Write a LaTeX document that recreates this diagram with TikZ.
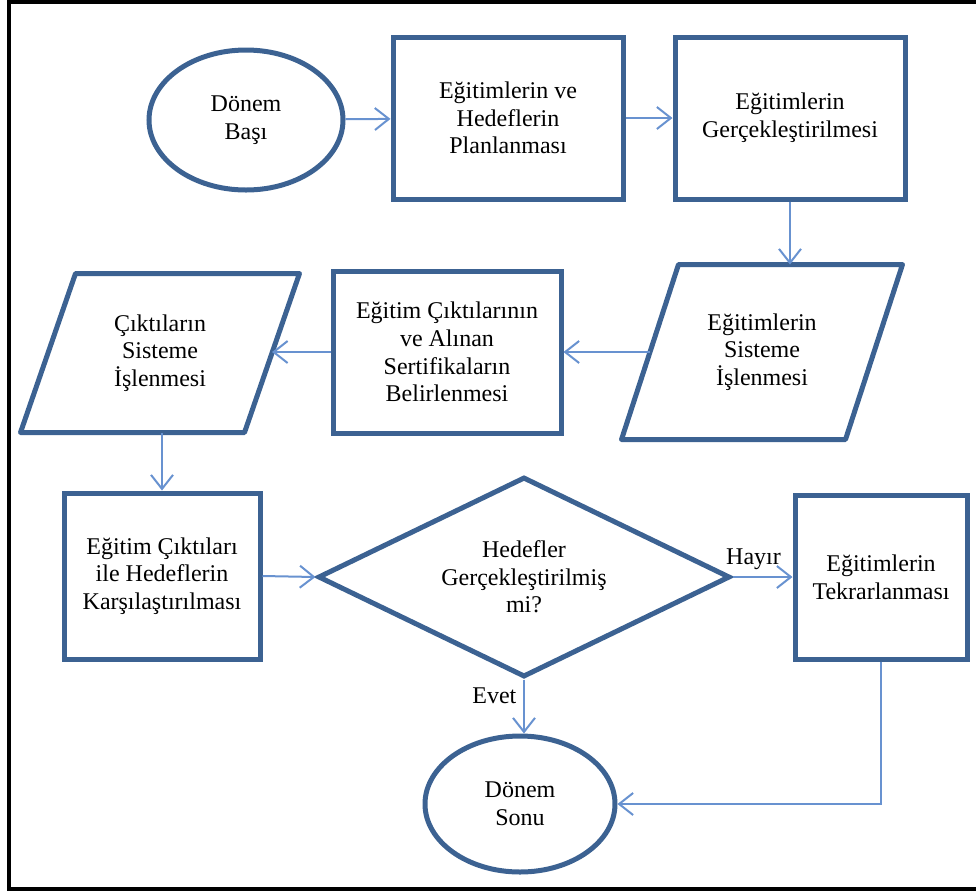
\documentclass[tikz,border=0pt]{standalone}
\usepackage{fontspec}
\setmainfont{Liberation Serif}
\usetikzlibrary{shapes.geometric,arrows.meta}
\definecolor{boxblue}{RGB}{60,98,146}
\definecolor{lineblue}{RGB}{104,146,208}
\tikzstyle{box} = [draw=boxblue, line width=2.5pt, rectangle, align=center, inner sep=0pt, font=\fontsize{12}{13.8}\selectfont]
\tikzstyle{term} = [draw=boxblue, line width=2.5pt, ellipse, align=center, inner sep=0pt, font=\fontsize{12}{13.8}\selectfont]
\tikzstyle{io} = [rectangle, align=center, inner sep=0pt, outer sep=1.25pt, font=\fontsize{12}{13.8}\selectfont]
\tikzstyle{ioline} = [draw=boxblue, line width=2.5pt, line join=round]
\tikzstyle{decision} = [draw=boxblue, line width=2.5pt, diamond, aspect=2.2, align=center, inner sep=0pt, font=\fontsize{12}{13.8}\selectfont]
\tikzstyle{arrow} = [line width=1pt, color=lineblue, -{Straight Barb[length=7pt,width=11pt]}]
\tikzstyle{answer} = [text=black, font=\fontsize{12}{13.8}\selectfont]

\begin{document}
\begin{tikzpicture}[x=0.5pt, y=-0.5pt]
\useasboundingbox (0,0) rectangle (976,891);
% frame (open on the right)
\draw[line width=1.6pt, black] (976,2) -- (9,2) -- (9,889) -- (976,889);

% first row
\node[term, minimum width=97pt, minimum height=70pt] (basla) at (246,120) {Dönem\\Başı};
\node[box, minimum width=115pt, minimum height=81pt] (plan) at (508,118) {Eğitimlerin ve\\Hedeflerin\\Planlanması};
\node[box, minimum width=115pt, minimum height=81pt] (gercek) at (790,118) {Eğitimlerin\\Gerçekleştirilmesi};

% second row (slanted input/output boxes drawn round their nodes)
\node[io, minimum width=109.5pt, minimum height=85pt] (isle1) at (762,352) {Eğitimlerin\\Sisteme\\İşlenmesi};
\draw[ioline] ([xshift=-14.25pt]isle1.south west) -- ([xshift=14.25pt]isle1.north west) -- ([xshift=14.25pt]isle1.north east) -- ([xshift=-14.25pt]isle1.south east) -- cycle;
\node[box, minimum width=114pt, minimum height=81pt] (belir) at (447,352) {Eğitim Çıktılarının\\ve Alınan\\Sertifikaların\\Belirlenmesi};
\node[io, minimum width=109.5pt, minimum height=77pt] (isle2) at (160,353) {Çıktıların\\Sisteme\\İşlenmesi};
\draw[ioline] ([xshift=-13.75pt]isle2.south west) -- ([xshift=13.75pt]isle2.north west) -- ([xshift=13.75pt]isle2.north east) -- ([xshift=-13.75pt]isle2.south east) -- cycle;

% third row
\node[box, minimum width=98pt, minimum height=83pt] (karsi) at (162,576) {Eğitim Çıktıları\\ile Hedeflerin\\Karşılaştırılması};
\node[decision, minimum width=206pt, minimum height=100pt] (karar) at (524,577) {Hedefler\\Gerçekleştirilmiş\\mi?};
\node[box, minimum width=86pt, minimum height=82pt] (tekrar) at (881,577) {Eğitimlerin\\Tekrarlanması};

\node[term, minimum width=95pt, minimum height=68pt] (bitis) at (520,804) {Dönem\\Sonu};

% connectors
\draw[arrow] (basla) -- (plan);
\draw[arrow] (plan) -- (gercek);
\draw[arrow] (gercek.south) -- (gercek.south |- isle1.north);
\draw[arrow] (isle1.west) -- (belir.east);
\draw[arrow] (belir.west) -- (belir.west -| isle2.east);
\draw[arrow] (karsi.north |- isle2.south) -- (karsi.north);
\draw[arrow] (karsi.east) -- (karar.west);
\draw[arrow] (karar.east) -- node[answer, above, pos=0.35] {Hayır} (tekrar.west);
\draw[arrow] (karar.south) -- node[answer, left, pos=0.3] {Evet} (karar.south |- bitis.north);
\draw[arrow] (tekrar.south) |- (bitis.east);
\end{tikzpicture}
\end{document}
